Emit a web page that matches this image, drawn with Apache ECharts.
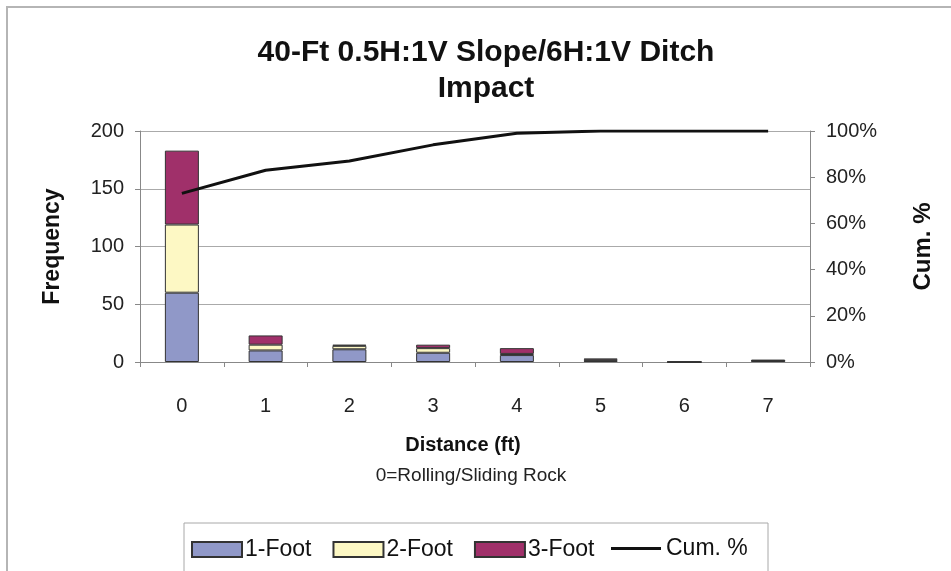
<!DOCTYPE html>
<html>
<head>
<meta charset="utf-8">
<script src="https://cdn.jsdelivr.net/npm/echarts@6/dist/echarts.min.js"></script>
<style>
html,body{margin:0;padding:0;background:#fff;}
#c{width:951px;height:571px;}
</style>
</head>
<body>
<div id="c"></div>
<script>
var categories = ['0','1','2','3','4','5','6','7'];
var oneFoot   = [60, 10, 11, 8, 6, 1, 0, 1];
var twoFoot   = [59, 5, 3, 4, 1, 1, 0, 0];
var threeFoot = [64, 8, 1, 3, 5, 1, 0, 1];
var cumPct    = [73, 83, 87, 94, 99, 100, 100, 100];
var leftTicks = [0, 50, 100, 150, 200];
var rightTicks = [0, 20, 40, 60, 80, 100];

var FONT = '"Liberation Sans", Arial, sans-serif';
var chart = echarts.init(document.getElementById('c'));
function barSeries(name, data, color){
  return {name:name, type:'bar', stack:'f', barWidth:34, data:data,
    itemStyle:{color:color, borderColor:'#333', borderWidth:1}};
}
chart.setOption({
  animation:false,
  backgroundColor:'#fff',
  textStyle:{fontFamily:FONT},
  title:{
    text:'40-Ft 0.5H:1V Slope/6H:1V Ditch\nImpact',
    left:481, top:30, textAlign:'center',
    textStyle:{fontFamily:FONT, fontSize:30, fontWeight:'bold', color:'#111', lineHeight:36}
  },
  graphic:[
    {type:'rect', shape:{x:7,y:7,width:1200,height:1000},
     style:{fill:'none', stroke:'#b5b5b5', lineWidth:2}, silent:true},
    {type:'rect', shape:{x:184,y:523,width:584,height:60},
     style:{fill:'none', stroke:'#a8a8a8', lineWidth:1}, silent:true},
    {type:'text', x:463, y:445,
     style:{text:'Distance (ft)', font:'bold 20px '+FONT, fill:'#111', textAlign:'center', textVerticalAlign:'middle'}},
    {type:'text', x:471, y:476,
     style:{text:'0=Rolling/Sliding Rock', font:'19px '+FONT, fill:'#222', textAlign:'center', textVerticalAlign:'middle'}}
  ],
  legend:[
    {left:191, top:538, padding:0,
     itemWidth:50, itemHeight:15, itemGap:21, icon:'rect',
     textStyle:{fontFamily:FONT, fontSize:23, color:'#111', padding:[0,0,0,-2]},
     data:['1-Foot','2-Foot','3-Foot']},
    {left:611, top:537, padding:0,
     itemWidth:50, itemHeight:3, icon:'rect',
     textStyle:{fontFamily:FONT, fontSize:23, color:'#111'},
     data:['Cum. %']}
  ],
  grid:{left:140, right:141, top:131, bottom:209},
  xAxis:{
    type:'category', data:categories,
    axisLine:{lineStyle:{color:'#888'}},
    axisTick:{show:true, length:5, lineStyle:{color:'#888'}},
    axisLabel:{fontFamily:FONT, fontSize:20, color:'#222', margin:34}
  },
  yAxis:[
    {type:'value', min:leftTicks[0], max:leftTicks[leftTicks.length-1], interval:leftTicks[1]-leftTicks[0],
     axisLine:{show:true, lineStyle:{color:'#888'}},
     axisTick:{show:true, length:5, lineStyle:{color:'#888'}},
     splitLine:{lineStyle:{color:'#aaa'}},
     axisLabel:{fontFamily:FONT, fontSize:20, color:'#222', margin:16},
     name:'Frequency', nameLocation:'middle', nameGap:76, nameRotate:90,
     nameTextStyle:{fontFamily:FONT, fontSize:23, fontWeight:'bold', color:'#111'}},
    {type:'value', min:rightTicks[0], max:rightTicks[rightTicks.length-1], interval:rightTicks[1]-rightTicks[0],
     axisLine:{show:true, lineStyle:{color:'#888'}},
     axisTick:{show:true, length:5, lineStyle:{color:'#888'}},
     splitLine:{show:false},
     axisLabel:{fontFamily:FONT, fontSize:20, color:'#222', margin:16, formatter:'{value}%'},
     name:'Cum. %', nameLocation:'middle', nameGap:101, nameRotate:90,
     nameTextStyle:{fontFamily:FONT, fontSize:24, fontWeight:'bold', color:'#111'}}
  ],
  series:[
    barSeries('1-Foot', oneFoot, '#9098c8'),
    barSeries('2-Foot', twoFoot, '#fdf8c4'),
    barSeries('3-Foot', threeFoot, '#a0306a'),
    {name:'Cum. %', type:'line', yAxisIndex:1, data:cumPct, showSymbol:false, symbol:'none',
     lineStyle:{color:'#111', width:3}, itemStyle:{color:'#111'}, z:5}
  ]
});
</script>
</body>
</html>
